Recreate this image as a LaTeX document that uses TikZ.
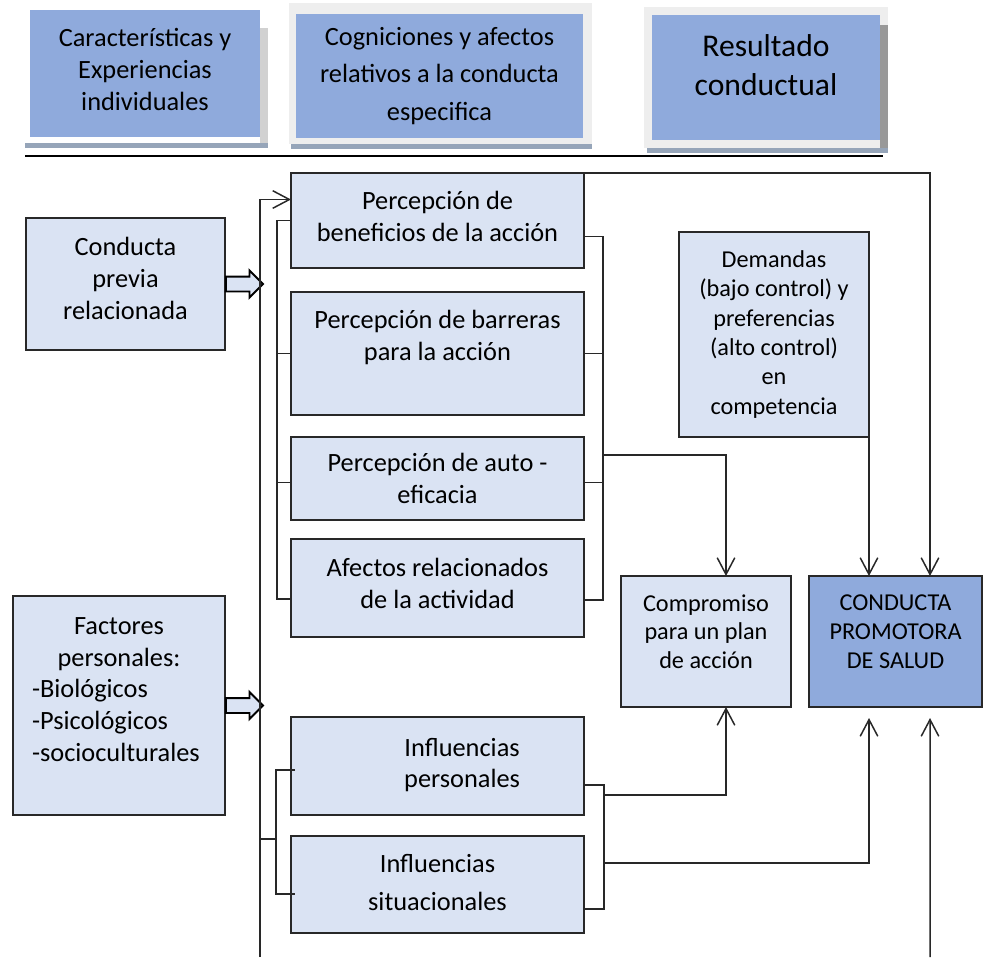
\documentclass[tikz,border=0pt]{standalone}
\usepackage{fontspec}
\setmainfont{Carlito}
\usetikzlibrary{shapes.arrows, arrows.meta, positioning, calc}
\definecolor{headblue}{RGB}{143,170,220}
\definecolor{factorblue}{RGB}{218,227,243}
\definecolor{shadowgrey}{RGB}{150,165,185}
\definecolor{framegrey}{RGB}{238,238,238}
\definecolor{linegrey}{RGB}{40,40,40}
\tikzstyle{factor} = [rectangle, draw=linegrey, fill=factorblue, line width=0.8pt,
                      align=center, inner sep=0pt, outer sep=0pt,
                      font=\fontsize{15}{18.2}\selectfont]
\tikzstyle{column} = [factor, minimum width=5.86cm]
\tikzstyle{header} = [rectangle, fill=headblue, align=center, inner sep=0pt]
\tikzstyle{bracket} = [draw=linegrey, line width=0.85pt]
\tikzstyle{arrow} = [bracket, -{Straight Barb[length=9.5pt, width=10pt]}]
\tikzstyle{fatarrow} = [single arrow, draw=black, fill=factorblue, line width=1.1pt,
                        minimum height=0.74cm, inner xsep=0pt, inner ysep=0.13cm,
                        single arrow head extend=0.12cm, single arrow tip angle=90]

\begin{document}
\begin{tikzpicture}[x=0.02cm, y=-0.02cm, node distance=0.48cm]
\useasboundingbox (0,0) rectangle (983,957);

% encabezados con sombra
\fill[framegrey] (289,3) rectangle (592,144);
\fill[framegrey] (644,7) rectangle (888,148);
\fill[black!18] (260,28) rectangle (268,143);
\fill[black!40] (880,25) rectangle (888,148);
\fill[shadowgrey] (25,143) rectangle (268,148);
\fill[shadowgrey] (291,144) rectangle (592,149);
\fill[shadowgrey] (647,148) rectangle (888,153);
\node (Caract) [header, minimum width=4.6cm, minimum height=2.54cm,
      font=\fontsize{15}{18.4}\selectfont] at (145,73.5)
      {Características y\\Experiencias\\individuales\\[-13.9pt]\mbox{}};
\node (Cognic) [header, minimum width=5.74cm, minimum height=2.48cm,
      font=\fontsize{15}{21.2}\selectfont] at (439.5,76)
      {Cogniciones y afectos\\relativos a la conducta\\especifica};
\node (Resultado) [header, minimum width=4.56cm, minimum height=2.5cm,
      font=\fontsize{18}{22.7}\selectfont] at (766,77.5)
      {Resultado\\conductual\\[-8.5pt]\mbox{}};
\draw[line width=1.7pt] (25,156) -- (883,156);

% factores de la izquierda
\node (Previa) [factor, minimum width=3.98cm, minimum height=2.64cm] at (125.5,284)
      {Conducta\\previa\\relacionada\\[-12pt]\mbox{}};
\node (Factores) [factor, minimum width=4.24cm, minimum height=4.38cm,
      text width=3.48cm, align=left] at (119,705.5)
      {\centering Factores\\personales:\par\raggedright -Biológicos\\-Psicológicos\\-socioculturales\\\mbox{}};
\node (FlechaPrevia) [fatarrow, right=0pt of Previa.east] {};
\node (FlechaFactores) [fatarrow, right=0pt of Factores.east] {};

% columna central
\node (Beneficios) [column, minimum height=1.9cm] at (437.5,220.5)
      {Percepción de\\beneficios de la acción\\[-13.7pt]\mbox{}};
\node (Barreras) [column, minimum height=2.46cm, below=of Beneficios]
      {Percepción de barreras\\para la acción\\[2.2pt]\mbox{}};
\node (Autoeficacia) [column, minimum height=1.66cm, below=0.44cm of Barreras]
      {Percepción de auto -\\eficacia};
\node (Afectos) [column, minimum height=1.96cm, below=0.38cm of Autoeficacia]
      {Afectos relacionados\\de la actividad\\[-13.1pt]\mbox{}};
\node (InfPersonales) [column, minimum height=1.96cm, below=1.6cm of Afectos]
      {\hspace*{28pt}Influencias\\\hspace*{28pt}personales\\[-14.8pt]\mbox{}};
\node (InfSituacionales) [column, minimum height=1.94cm, below=0.42cm of InfPersonales]
      {Influencias\\[3pt]situacionales\\[-15.9pt]\mbox{}};

% columna derecha
\node (Demandas) [factor, minimum width=3.8cm, minimum height=4.1cm,
      font=\fontsize{13.8}{16.7}\selectfont] at (774,334.5)
      {Demandas\\(bajo control) y\\preferencias\\(alto control)\\en\\competencia};
\node (Compromiso) [factor, minimum width=3.4cm, minimum height=2.62cm,
      font=\fontsize{13.8}{16.4}\selectfont] at (706,641.5)
      {Compromiso\\para un plan\\de acción\\[-5pt]\mbox{}};
\node (Promotora) [factor, fill=headblue, minimum width=3.46cm, minimum height=2.62cm,
      font=\fontsize{13.8}{16.4}\selectfont] at (895.5,641.5)
      {CONDUCTA\\PROMOTORA\\DE SALUD\\[-5pt]\mbox{}};

% conectores
\coordinate (RielIzq) at (260,957);
\coordinate (RielDer) at (930,957);
\draw[arrow] (RielIzq) |- ($(Beneficios.west)+(0,-21)$);
\draw[bracket] (Beneficios.west) -- ++(-14,0) |- ($(Afectos.west)+(0,11)$);
\draw[bracket] (Barreras.west) -- ++(-14,0);
\draw[bracket] ($(Autoeficacia.west)+(0,4)$) -- ++(-14,0);
\draw[bracket] ($(Beneficios.east)+(0,16)$) -- ++(19,0) |- ($(Afectos.east)+(0,12)$);
\draw[bracket] (Barreras.east) -- ++(19,0);
\draw[bracket] ($(Autoeficacia.east)+(0,4)$) -- ++(19,0);
\draw[arrow] ($(Autoeficacia.north east)+(19,18)$) -| ($(Compromiso.north)+(20,0)$);

\draw[bracket] ($(InfPersonales.west)+(4,4)$) -- ++(-19,0) |- ($(InfSituacionales.west)+(4,9.5)$);
\draw[bracket] ($(RielIzq |- InfSituacionales.north)+(0,3)$) -- ++(16,0);
\draw[bracket] ($(InfPersonales.east)+(0,19)$) -- ++(20,0) |- ($(InfSituacionales.east)+(0,24.5)$);
\draw[arrow] ($(InfPersonales.east)+(20,29)$) -| ($(Compromiso.south)+(20,0)$);
\draw[arrow] ($(InfSituacionales.north east)+(20,27)$) -| ($(Promotora.south)+(-26.5,11)$);

\draw[arrow] (Demandas.south east) -- (Demandas.south east |- Promotora.north);
\draw[arrow] (Beneficios.north east) -| ($(Promotora.north)+(34.5,0)$);
\draw[arrow] (RielDer) -- ($(Promotora.south)+(34.5,11)$);
\end{tikzpicture}
\end{document}
